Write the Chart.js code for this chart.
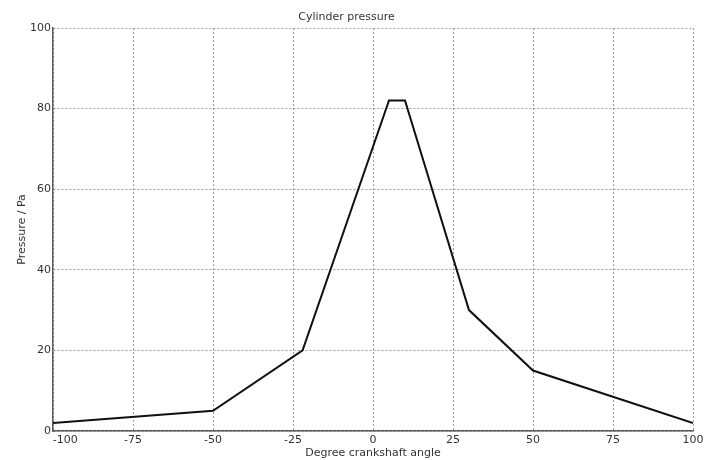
<!DOCTYPE html>
<html>
<head>
<meta charset="utf-8">
<script src="https://cdn.jsdelivr.net/npm/chart.js@4/dist/chart.umd.min.js"></script>
<style>
  html, body { margin: 0; padding: 0; background: #fff; }
  #wrap { width: 715px; height: 460px; position: relative; }
</style>
</head>
<body>
<div id="wrap"><canvas id="c" width="715" height="460"></canvas></div>
<script>
const crankAngles = [-100, -50, -22, 5, 10, 30, 50, 100];
const pressures   = [2, 5, 20, 82, 82, 30, 15, 2];
const xTicks = [-100, -75, -50, -25, 0, 25, 50, 75, 100];
const yTicks = [0, 20, 40, 60, 80, 100];
const chartTitle = 'Cylinder pressure';
const xTitle = 'Degree crankshaft angle';
const yTitle = 'Pressure / Pa';

const FONT = 'DejaVu Sans';
const TXT = '#333333';

new Chart(document.getElementById('c'), {
  type: 'line',
  data: {
    datasets: [{
      data: crankAngles.map((x, i) => ({ x: x, y: pressures[i] })),
      borderColor: '#111111',
      borderWidth: 2,
      pointRadius: 0,
      fill: false,
      tension: 0
    }]
  },
  options: {
    responsive: false,
    animation: false,
    layout: { padding: { left: 0, right: 22, top: 0, bottom: 0 } },
    plugins: {
      legend: { display: false },
      tooltip: { enabled: false },
      title: {
        display: true,
        text: chartTitle,
        color: TXT,
        font: { family: FONT, size: 11, weight: 'normal' },
        padding: { top: 11, bottom: 3.8 }
      }
    },
    scales: {
      x: {
        type: 'linear',
        min: xTicks[0],
        max: xTicks[xTicks.length - 1],
        afterBuildTicks: (s) => { s.ticks = xTicks.map(v => ({ value: v })); },
        afterFit: (s) => { s.height = 29; },
        border: { display: true, color: '#5a5a5a', width: 1.5, dash: [2, 2] },
        grid: {
          drawTicks: false,
          color: '#9c9c9c',
          lineWidth: 1
        },
        ticks: {
          color: TXT,
          font: { family: FONT, size: 11 },
          padding: 3,
          maxRotation: 0,
          autoSkip: false,
          callback: (v) => (v === xTicks[0] ? '\u2007\u2007\u2007 ' + String(v) : String(v))
        },
        title: {
          display: true,
          text: xTitle,
          color: TXT,
          font: { family: FONT, size: 11 },
          padding: { top: 0, bottom: 0.5 }
        }
      },
      y: {
        type: 'linear',
        min: yTicks[0],
        max: yTicks[yTicks.length - 1],
        afterBuildTicks: (s) => { s.ticks = yTicks.map(v => ({ value: v })); },
        afterFit: (s) => { s.width = 53; },
        border: { display: true, color: '#5a5a5a', width: 1.5, dash: [2, 2] },
        grid: {
          drawTicks: false,
          color: '#9c9c9c',
          lineWidth: 1
        },
        ticks: {
          color: TXT,
          font: { family: FONT, size: 11 },
          padding: 2,
          callback: (v) => String(v)
        },
        title: {
          display: true,
          text: yTitle,
          color: TXT,
          font: { family: FONT, size: 11 },
          padding: { top: 15.4, bottom: 0 }
        }
      }
    }
  }
});
</script>
</body>
</html>
